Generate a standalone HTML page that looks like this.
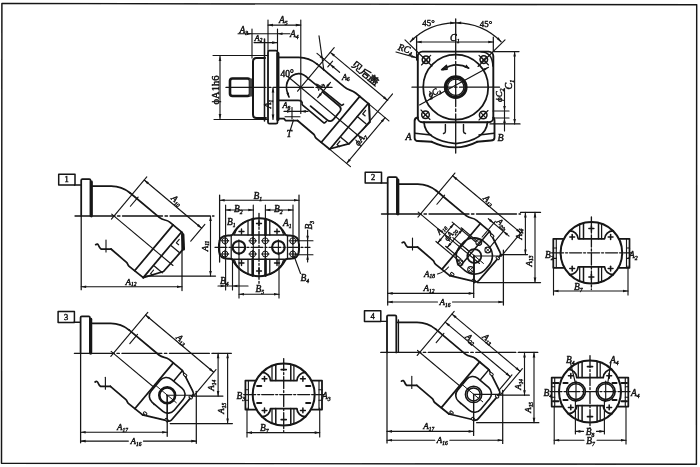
<!DOCTYPE html>
<html><head><meta charset="utf-8"><style>
html,body{margin:0;padding:0;background:#fff;}
svg{display:block;}
</style></head><body>
<svg width="700" height="467" viewBox="0 0 700 467">
<defs><filter id="bl" filterUnits="userSpaceOnUse" x="0" y="0" width="700" height="467"><feGaussianBlur stdDeviation="0.4"/></filter></defs>
<rect x="0" y="0" width="700" height="467" fill="#fff"/>
<g stroke="#141414" fill="none" stroke-linecap="round" stroke-linejoin="round" filter="url(#bl)">
<path d="M1.9 3.4 L696.7 4.8 L696.4 464.3 L1.5 463.2 Z" stroke-width="1.44" fill="none"/>
<path d="M268 52.2 V122.2 Q268 123.7 269.5 123.7 H276 Q277.5 123.7 277.5 122.2 V52.2 Q277.5 50.7 276 50.7 H269.5 Q268 50.7 268 52.2 Z" stroke-width="1.75" fill="none"/>
<line x1="277.9" y1="53.4" x2="277.9" y2="119.4" stroke-width="3.13"/>
<path d="M278.8 57.4 H298.57 Q309.07 57.4 317.12 64.15" stroke-width="1.75" fill="none"/>
<path d="M317.12 64.15 L344.27 86.93 C349.25 91.11 350.99 89.04 355.96 93.22 L368.99 104.15" stroke-width="1.75" fill="none"/>
<rect x="230" y="78.5" width="20" height="17.5" rx="2.5" stroke-width="2.63" fill="none"/>
<rect x="249.3" y="78.5" width="3.2" height="18" rx="0" stroke-width="0" fill="#444"/>
<path d="M265 58 H256.5 Q253 58 253 61.5 V114.5 Q253 118 256.5 118 H266" stroke-width="2" fill="none"/>
<line x1="264.5" y1="39" x2="264.5" y2="121" stroke-width="1.5"/>
<line x1="268" y1="20" x2="268" y2="51" stroke-width="1.13"/>
<line x1="252" y1="29" x2="252" y2="58" stroke-width="1.13"/>
<line x1="277.5" y1="29" x2="277.5" y2="51" stroke-width="1.13"/>
<line x1="300.8" y1="20" x2="300.8" y2="113.5" stroke-width="1.13"/>
<line x1="213" y1="55.5" x2="268" y2="55.5" stroke-width="1.13"/>
<line x1="214" y1="119.5" x2="268" y2="119.5" stroke-width="1.13"/>
<line x1="220" y1="56" x2="220" y2="119" stroke-width="1.13"/>
<path d="M220 56 L221.3 61 L218.7 61 Z" fill="#141414" stroke="none"/>
<path d="M220 119 L218.7 114 L221.3 114 Z" fill="#141414" stroke="none"/>
<text fill="#141414" stroke="#141414" stroke-width="0.45" x="219.2" y="90" text-anchor="middle" style="font-family:'Liberation Serif', serif;font-size:10.5px;font-weight:normal;" transform="rotate(-90 219.2 90)">ϕA1h6</text>
<line x1="268" y1="25.1" x2="300.8" y2="25.1" stroke-width="1.13"/>
<path d="M268 25.1 L273 23.8 L273 26.4 Z" fill="#141414" stroke="none"/>
<path d="M300.8 25.1 L295.8 26.4 L295.8 23.8 Z" fill="#141414" stroke="none"/>
<text fill="#141414" stroke="#141414" stroke-width="0.45" x="279" y="23.4" text-anchor="start" style="font-family:'Liberation Serif', serif;font-size:9.5px;font-style:italic;">A<tspan dy="2.09" style="font-size:5.7px">5</tspan></text>
<line x1="238" y1="33.7" x2="290" y2="33.7" stroke-width="1.13"/>
<path d="M252 33.7 L247 35 L247 32.4 Z" fill="#141414" stroke="none"/>
<path d="M277.5 33.7 L282.5 32.4 L282.5 35 Z" fill="#141414" stroke="none"/>
<text fill="#141414" stroke="#141414" stroke-width="0.45" x="239.5" y="32.6" text-anchor="start" style="font-family:'Liberation Serif', serif;font-size:9.5px;font-style:italic;">A<tspan dy="2.09" style="font-size:5.7px">3</tspan></text>
<text fill="#141414" stroke="#141414" stroke-width="0.45" x="290" y="37.2" text-anchor="start" style="font-family:'Liberation Serif', serif;font-size:9.5px;font-style:italic;">A<tspan dy="2.09" style="font-size:5.7px">4</tspan></text>
<line x1="254" y1="42.6" x2="277" y2="42.6" stroke-width="1.13"/>
<path d="M277.2 42.6 L272.2 43.9 L272.2 41.3 Z" fill="#141414" stroke="none"/>
<text fill="#141414" stroke="#141414" stroke-width="0.45" x="254.5" y="40.6" text-anchor="start" style="font-family:'Liberation Serif', serif;font-size:8.5px;font-style:italic;">A<tspan dy="1.87" style="font-size:5.1px">2</tspan></text>
<line x1="226" y1="87.4" x2="332" y2="87.4" stroke-width="1.32" stroke-dasharray="40 2.5 2.5 2.5"/>
<path d="M278 118.6 H284 L285.5 120.5 H297.5" stroke-width="1.75" fill="none"/>
<path d="M297.5 120.5 L313.7 134.25 C315.23 135.54 314.27 136.69 316.57 138.62 L329.4 148.99" stroke-width="1.75" fill="none"/>
<path d="M289 97 Q282.5 83 292.5 75.5 Q301 70.5 308.96 79.23 L340.88 104.97 Q342.03 105.94 343.44 104.25" stroke-width="1.63" fill="none"/>
<path d="M289.3 97.6 L286.42 93.31 L288.88 92.45 Z" fill="#141414" stroke="none"/>
<path d="M278 100.4 H298 Q303 100.4 302.09 104.54 L323.54 122.53 Q324.68 123.5 326.48 121.35" stroke-width="1.63" fill="none"/>
<path d="M322.49 91.89 L338.96 105.71 Q342.4 108.6 339.51 112.05 L333.41 119.33 Q330.51 122.78 327.07 119.88 L310.6 106.06" stroke-width="1.75" fill="none"/>
<line x1="287.78" y1="76.47" x2="359.02" y2="136.25" stroke-width="1.13"/>
<line x1="317.67" y1="97.64" x2="330.52" y2="82.32" stroke-width="1.13"/>
<path d="M317.67 97.64 L319.88 92.97 L321.88 94.64 Z" fill="#141414" stroke="none"/>
<path d="M330.52 82.32 L328.3 86.98 L326.31 85.31 Z" fill="#141414" stroke="none"/>
<text fill="#141414" stroke="#141414" stroke-width="0.45" x="318.82" y="90.6" text-anchor="start" style="font-family:'Liberation Serif', serif;font-size:9px;font-style:italic;" transform="rotate(-50 318.82 90.6)">A<tspan dy="1.98" style="font-size:5.4px">9</tspan></text>
<line x1="359.79" y1="96.43" x2="321.36" y2="142.24" stroke-width="1.75"/>
<line x1="368.22" y1="103.51" x2="329.78" y2="149.31" stroke-width="1.75"/>
<path d="M368.99 104.15 L369.79 122.26 L349.24 143.71 L329.4 148.99" stroke-width="1.75" fill="none"/>
<line x1="369.29" y1="105.15" x2="369.79" y2="122.26" stroke-width="1.5"/>
<line x1="357.29" y1="116.53" x2="365.95" y2="123.79" stroke-width="1.38"/>
<line x1="341.03" y1="137.47" x2="348.92" y2="144.09" stroke-width="1.38"/>
<path d="M365.64 110.47 L362.74 113.92 L365.04 115.85" stroke-width="1.25" fill="none"/>
<path d="M339.93 141.12 L337.03 144.56 L339.33 146.49" stroke-width="1.25" fill="none"/>
<text fill="#141414" stroke="#141414" stroke-width="0.45" x="280.5" y="76.5" text-anchor="start" style="font-family:'Liberation Serif', serif;font-size:9.5px;">40°</text>
<line x1="297.59" y1="91.23" x2="334.22" y2="47.57" stroke-width="1.13"/>
<line x1="327.76" y1="66.94" x2="332.58" y2="61.2" stroke-width="1.13"/>
<line x1="316.98" y1="53.33" x2="339.58" y2="72.3" stroke-width="1.13"/>
<path d="M324.26 59.44 L319.6 57.22 L321.27 55.23 Z" fill="#141414" stroke="none"/>
<path d="M330.01 64.26 L334.67 66.48 L333 68.47 Z" fill="#141414" stroke="none"/>
<text fill="#141414" stroke="#141414" stroke-width="0.45" x="341.91" y="79.51" text-anchor="start" style="font-family:'Liberation Serif', serif;font-size:8.5px;font-style:italic;">A<tspan dy="1.87" style="font-size:5.1px">6</tspan></text>
<line x1="319" y1="35.8" x2="323.9" y2="70.5" stroke-width="1.13"/>
<line x1="330.24" y1="52.32" x2="387.69" y2="100.52" stroke-width="1.13"/>
<path d="M330.24 52.32 L334.91 54.53 L333.23 56.52 Z" fill="#141414" stroke="none"/>
<path d="M387.69 100.52 L383.03 98.31 L384.7 96.31 Z" fill="#141414" stroke="none"/>
<line x1="362.37" y1="129.93" x2="392.58" y2="93.92" stroke-width="1.13"/>
<line x1="368.99" y1="104.15" x2="388.9" y2="120.86" stroke-width="1.13"/>
<line x1="329.78" y1="149.31" x2="350.47" y2="166.67" stroke-width="1.13"/>
<line x1="385.07" y1="117.65" x2="346.64" y2="163.46" stroke-width="1.13"/>
<path d="M385.07 117.65 L382.86 122.31 L380.86 120.64 Z" fill="#141414" stroke="none"/>
<path d="M346.64 163.46 L348.85 158.79 L350.85 160.46 Z" fill="#141414" stroke="none"/>
<text fill="#141414" stroke="#141414" stroke-width="0.45" x="362.65" y="141.26" text-anchor="middle" style="font-family:'Liberation Serif', serif;font-size:9px;font-style:italic;" transform="rotate(-50 362.65 141.26)">ϕA<tspan dy="1.98" style="font-size:5.4px">7</tspan></text>
<line x1="284" y1="111.4" x2="308" y2="111.4" stroke-width="1.13"/>
<path d="M292 111.4 L287 112.7 L287 110.1 Z" fill="#141414" stroke="none"/>
<path d="M300.8 111.4 L305.8 110.1 L305.8 112.7 Z" fill="#141414" stroke="none"/>
<text fill="#141414" stroke="#141414" stroke-width="0.45" x="282.5" y="108" text-anchor="start" style="font-family:'Liberation Serif', serif;font-size:8.5px;font-style:italic;">A<tspan dy="1.87" style="font-size:5.1px">8</tspan></text>
<line x1="285" y1="116.7" x2="300" y2="116.7" stroke-width="1.13"/>
<line x1="292" y1="107.5" x2="292" y2="119" stroke-width="1.13"/>
<line x1="293.5" y1="120" x2="290" y2="131" stroke-width="1.13"/>
<text fill="#141414" stroke="#141414" stroke-width="0.45" x="286.5" y="137" text-anchor="start" style="font-family:'Liberation Serif', serif;font-size:9.5px;font-style:italic;">T</text>
<line x1="273" y1="87.4" x2="273" y2="119.4" stroke-width="1.13"/>
<path d="M273 87.4 L274.3 92.4 L271.7 92.4 Z" fill="#141414" stroke="none"/>
<path d="M273 119.4 L271.7 114.4 L274.3 114.4 Z" fill="#141414" stroke="none"/>
<text fill="#141414" stroke="#141414" stroke-width="0.45" x="270.5" y="104" text-anchor="middle" style="font-family:'Liberation Serif', serif;font-size:9.5px;font-style:italic;" transform="rotate(-90 270.5 104)">A<tspan dy="2.09" style="font-size:5.7px">1</tspan></text>
<path d="M81.2 216 V180.2 Q81.2 179 82.4 179 H89.3 Q90.5 179 90.5 180.2 V216" stroke-width="1.75" fill="none"/>
<line x1="91.4" y1="182" x2="91.4" y2="216" stroke-width="2.88"/>
<path d="M92 186 H111.31 Q121.81 186 129.85 192.75" stroke-width="1.75" fill="none"/>
<path d="M129.85 192.75 L159.58 217.69 C163.79 221.23 165.85 218.78 170.06 222.31 L182.32 232.6" stroke-width="1.75" fill="none"/>
<rect x="58.7" y="174.3" width="16.3" height="10.8" rx="0" stroke-width="1.5" fill="none"/>
<text fill="#141414" stroke="#141414" stroke-width="0.45" x="66.7" y="182.4" text-anchor="middle" style="font-family:'Liberation Serif', serif;font-size:8.5px;font-weight:normal;">1</text>
<line x1="74.5" y1="185" x2="81" y2="185" stroke-width="1.38"/>
<line x1="81.2" y1="216" x2="81.2" y2="289.7" stroke-width="1.25"/>
<line x1="75" y1="216" x2="214" y2="216" stroke-width="1.32" stroke-dasharray="40 2.5 2.5 2.5"/>
<path d="M95.7 244.7 q2 -1.5 3 1 q1 2.5 2.3 3.3 H111" stroke-width="1.75" fill="none"/>
<line x1="106" y1="240" x2="106" y2="252" stroke-width="1.13"/>
<path d="M111 249 L126.26 262.06 C128.18 263.67 127.28 264.74 129.19 266.34 L143.24 277.61" stroke-width="1.75" fill="none"/>
<line x1="111.7" y1="214.07" x2="172.99" y2="265.49" stroke-width="1.13"/>
<line x1="130.4" y1="206.26" x2="138.11" y2="197.07" stroke-width="1.13"/>
<line x1="111.43" y1="219.06" x2="146.78" y2="176.93" stroke-width="1.13"/>
<line x1="144.21" y1="180" x2="201.66" y2="228.2" stroke-width="1.13"/>
<path d="M144.21 180 L148.88 182.21 L147.21 184.21 Z" fill="#141414" stroke="none"/>
<path d="M201.66 228.2 L197 225.99 L198.67 224 Z" fill="#141414" stroke="none"/>
<line x1="190.74" y1="241.23" x2="204.88" y2="224.37" stroke-width="1.13"/>
<text fill="#141414" stroke="#141414" stroke-width="0.45" x="174.93" y="202.51" text-anchor="middle" style="font-family:'Liberation Serif', serif;font-size:9px;font-style:italic;" transform="rotate(40 174.93 202.51)">A<tspan dy="1.98" style="font-size:5.4px">10</tspan></text>
<line x1="173.12" y1="224.88" x2="134.81" y2="270.54" stroke-width="1.75"/>
<line x1="181.55" y1="231.95" x2="143.24" y2="277.61" stroke-width="1.75"/>
<path d="M182.25 233.45 L183.45 248.95 L163.5 271.51 L143.24 277.61" stroke-width="1.75" fill="none"/>
<line x1="182.85" y1="234.45" x2="183.45" y2="248.95" stroke-width="3.13"/>
<line x1="171.26" y1="245.77" x2="179.3" y2="252.52" stroke-width="1.25"/>
<line x1="154.23" y1="266.07" x2="162.27" y2="272.82" stroke-width="1.25"/>
<path d="M179.22 239.4 L176.33 242.84 L178.63 244.77" stroke-width="1.13" fill="none"/>
<path d="M153.51 270.04 L150.62 273.49 L152.91 275.41" stroke-width="1.13" fill="none"/>
<line x1="145" y1="276" x2="215.5" y2="276" stroke-width="1.25"/>
<line x1="210.5" y1="216" x2="210.5" y2="276" stroke-width="1.13"/>
<path d="M210.5 216 L211.8 221 L209.2 221 Z" fill="#141414" stroke="none"/>
<path d="M210.5 276 L209.2 271 L211.8 271 Z" fill="#141414" stroke="none"/>
<text fill="#141414" stroke="#141414" stroke-width="0.45" x="207.5" y="246" text-anchor="middle" style="font-family:'Liberation Serif', serif;font-size:9px;font-style:italic;" transform="rotate(-90 207.5 246)">A<tspan dy="1.98" style="font-size:5.4px">11</tspan></text>
<line x1="81.2" y1="286.7" x2="182" y2="286.7" stroke-width="1.13"/>
<path d="M81.2 286.7 L86.2 285.4 L86.2 288 Z" fill="#141414" stroke="none"/>
<path d="M182 286.7 L177 288 L177 285.4 Z" fill="#141414" stroke="none"/>
<line x1="182" y1="234" x2="182" y2="290.5" stroke-width="1.25"/>
<text fill="#141414" stroke="#141414" stroke-width="0.45" x="131" y="284.5" text-anchor="middle" style="font-family:'Liberation Serif', serif;font-size:9px;font-style:italic;">A<tspan dy="1.98" style="font-size:5.4px">12</tspan></text>
<path d="M387.7 214 V178.2 Q387.7 177 388.9 177 H395.8 Q397 177 397 178.2 V214" stroke-width="1.75" fill="none"/>
<line x1="397.9" y1="180" x2="397.9" y2="214" stroke-width="2.88"/>
<path d="M398.5 184 H417.81 Q428.31 184 436.35 190.75" stroke-width="1.75" fill="none"/>
<path d="M436.35 190.75 L466.08 215.69 C470.29 219.23 472.35 216.78 476.56 220.31 L488.82 230.6" stroke-width="1.75" fill="none"/>
<rect x="365.2" y="172.3" width="16.3" height="10.8" rx="0" stroke-width="1.5" fill="none"/>
<text fill="#141414" stroke="#141414" stroke-width="0.45" x="373.2" y="180.4" text-anchor="middle" style="font-family:'Liberation Serif', serif;font-size:8.5px;font-weight:normal;">2</text>
<line x1="381" y1="183" x2="387.5" y2="183" stroke-width="1.38"/>
<line x1="387.7" y1="214" x2="387.7" y2="305" stroke-width="1.25"/>
<line x1="381.5" y1="214" x2="520.5" y2="214" stroke-width="1.32" stroke-dasharray="40 2.5 2.5 2.5"/>
<path d="M402.2 242.7 q2 -1.5 3 1 q1 2.5 2.3 3.3 H417.5" stroke-width="1.75" fill="none"/>
<line x1="412.5" y1="238" x2="412.5" y2="250" stroke-width="1.13"/>
<path d="M417.5 247 L432.76 260.06 C434.68 261.67 433.78 262.74 435.69 264.34 L449.74 275.61" stroke-width="1.75" fill="none"/>
<line x1="418.2" y1="212.07" x2="479.49" y2="263.49" stroke-width="1.13"/>
<line x1="436.9" y1="204.26" x2="444.61" y2="195.07" stroke-width="1.13"/>
<line x1="417.93" y1="217.06" x2="454.89" y2="173.02" stroke-width="1.13"/>
<line x1="452.64" y1="175.7" x2="520.82" y2="232.91" stroke-width="1.13"/>
<path d="M452.64 175.7 L457.31 177.92 L455.63 179.91 Z" fill="#141414" stroke="none"/>
<path d="M520.82 232.91 L516.15 230.69 L517.82 228.7 Z" fill="#141414" stroke="none"/>
<line x1="501.53" y1="255.89" x2="523.07" y2="230.22" stroke-width="1.13"/>
<text fill="#141414" stroke="#141414" stroke-width="0.45" x="486.93" y="202.51" text-anchor="middle" style="font-family:'Liberation Serif', serif;font-size:9px;font-style:italic;" transform="rotate(40 486.93 202.51)">A<tspan dy="1.98" style="font-size:5.4px">13</tspan></text>
<line x1="480.39" y1="223.52" x2="442.08" y2="269.18" stroke-width="1.75"/>
<path d="M489.58 231.24 L500.1 252.3 Q501.3 254.5 499.7 256.3 L478.8 280.5 Q477.3 282.2 475.1 281.6 L449.74 275.61" stroke-width="1.75" fill="none"/>
<rect x="490.38" y="234.64" width="3.6" height="2.2" rx="0.8" stroke-width="1.0" fill="#fff" transform="rotate(40 492.18 235.74)"/>
<rect x="496" y="256.9" width="3.6" height="2.2" rx="0.8" stroke-width="1.0" fill="#fff" transform="rotate(40 497.8 258)"/>
<rect x="472" y="279.6" width="3.6" height="2.2" rx="0.8" stroke-width="1.0" fill="#fff" transform="rotate(40 473.8 280.7)"/>
<rect x="450.44" y="273.01" width="3.6" height="2.2" rx="0.8" stroke-width="1.0" fill="#fff" transform="rotate(40 452.24 274.11)"/>
<line x1="489.58" y1="231.24" x2="461.17" y2="265.1" stroke-width="1.5"/>
<rect x="457.1" y="238.8" width="34.4" height="34.4" rx="15" stroke-width="1.6" fill="none" transform="rotate(40 474.3 256)"/>
<line x1="474.3" y1="256" x2="501.3" y2="256" stroke-width="1.13"/>
<line x1="474.3" y1="256" x2="474.3" y2="283" stroke-width="1.13"/>
<line x1="462.01" y1="245.43" x2="483.45" y2="263.43" stroke-width="1"/>
<circle cx="474.3" cy="256" r="7" stroke-width="1.75" fill="none"/>
<circle cx="478.8" cy="242.5" r="2.9" stroke-width="1.07" fill="none"/>
<line x1="476.6" y1="240.3" x2="481" y2="244.7" stroke-width="0.88"/>
<line x1="476.6" y1="244.7" x2="481" y2="240.3" stroke-width="0.88"/>
<circle cx="487.8" cy="250" r="2.9" stroke-width="1.07" fill="none"/>
<line x1="485.6" y1="247.8" x2="490" y2="252.2" stroke-width="0.88"/>
<line x1="485.6" y1="252.2" x2="490" y2="247.8" stroke-width="0.88"/>
<circle cx="460.1" cy="262.8" r="2.9" stroke-width="1.07" fill="none"/>
<line x1="457.9" y1="260.6" x2="462.3" y2="265" stroke-width="0.88"/>
<line x1="457.9" y1="265" x2="462.3" y2="260.6" stroke-width="0.88"/>
<circle cx="470.6" cy="269.5" r="2.9" stroke-width="1.07" fill="none"/>
<line x1="468.4" y1="267.3" x2="472.8" y2="271.7" stroke-width="0.88"/>
<line x1="468.4" y1="271.7" x2="472.8" y2="267.3" stroke-width="0.88"/>
<line x1="500.5" y1="254.6" x2="527.5" y2="254.6" stroke-width="1.25"/>
<line x1="477.3" y1="282.5" x2="540.5" y2="282.5" stroke-width="1.25"/>
<line x1="525.4" y1="212.4" x2="525.4" y2="254.6" stroke-width="1.13"/>
<path d="M525.4 212.4 L526.7 217.4 L524.1 217.4 Z" fill="#141414" stroke="none"/>
<path d="M525.4 254.6 L524.1 249.6 L526.7 249.6 Z" fill="#141414" stroke="none"/>
<line x1="535" y1="212.4" x2="535" y2="282.5" stroke-width="1.13"/>
<path d="M535 212.4 L536.3 217.4 L533.7 217.4 Z" fill="#141414" stroke="none"/>
<path d="M535 282.5 L533.7 277.5 L536.3 277.5 Z" fill="#141414" stroke="none"/>
<line x1="520.5" y1="212.4" x2="540.5" y2="212.4" stroke-width="1.25"/>
<text fill="#141414" stroke="#141414" stroke-width="0.45" x="521.5" y="234" text-anchor="middle" style="font-family:'Liberation Serif', serif;font-size:9px;font-style:italic;" transform="rotate(-90 521.5 234)">A<tspan dy="1.98" style="font-size:5.4px">14</tspan></text>
<text fill="#141414" stroke="#141414" stroke-width="0.45" x="531.5" y="261" text-anchor="middle" style="font-family:'Liberation Serif', serif;font-size:9px;font-style:italic;" transform="rotate(-90 531.5 261)">A<tspan dy="1.98" style="font-size:5.4px">13</tspan></text>
<line x1="473.7" y1="255" x2="473.7" y2="297.4" stroke-width="1.25"/>
<line x1="503.4" y1="250" x2="503.4" y2="305" stroke-width="1.25"/>
<line x1="387.7" y1="293.4" x2="473.7" y2="293.4" stroke-width="1.13"/>
<path d="M387.7 293.4 L392.7 292.1 L392.7 294.7 Z" fill="#141414" stroke="none"/>
<path d="M473.7 293.4 L468.7 294.7 L468.7 292.1 Z" fill="#141414" stroke="none"/>
<text fill="#141414" stroke="#141414" stroke-width="0.45" x="429" y="291" text-anchor="middle" style="font-family:'Liberation Serif', serif;font-size:9px;font-style:italic;">A<tspan dy="1.98" style="font-size:5.4px">12</tspan></text>
<line x1="387.7" y1="302" x2="437.5" y2="302" stroke-width="1.13"/>
<line x1="452.5" y1="302" x2="503.4" y2="302" stroke-width="1.13"/>
<path d="M387.7 302 L392.7 300.7 L392.7 303.3 Z" fill="#141414" stroke="none"/>
<path d="M503.4 302 L498.4 303.3 L498.4 300.7 Z" fill="#141414" stroke="none"/>
<text fill="#141414" stroke="#141414" stroke-width="0.45" x="445" y="305.2" text-anchor="middle" style="font-family:'Liberation Serif', serif;font-size:9px;font-style:italic;">A<tspan dy="1.98" style="font-size:5.4px">16</tspan></text>
<text fill="#141414" stroke="#141414" stroke-width="0.45" x="429.5" y="276.5" text-anchor="middle" style="font-family:'Liberation Serif', serif;font-size:9px;font-style:italic;">A<tspan dy="1.98" style="font-size:5.4px">18</tspan></text>
<path d="M437.5 274 Q444.5 272 448.5 267" stroke-width="1.13" fill="none"/>
<line x1="452.16" y1="222.16" x2="475.53" y2="241.77" stroke-width="1.13"/>
<line x1="435.96" y1="241.47" x2="459.33" y2="261.07" stroke-width="1.13"/>
<line x1="461.17" y1="227.76" x2="476.49" y2="240.62" stroke-width="1.13"/>
<line x1="445.61" y1="246.3" x2="460.93" y2="259.16" stroke-width="1.13"/>
<line x1="452.88" y1="237.64" x2="468.2" y2="250.5" stroke-width="1.13"/>
<line x1="437.73" y1="242.94" x2="453.92" y2="223.64" stroke-width="1.13"/>
<path d="M437.73 242.94 L439.94 238.28 L441.94 239.95 Z" fill="#141414" stroke="none"/>
<path d="M453.92 223.64 L451.71 228.31 L449.71 226.63 Z" fill="#141414" stroke="none"/>
<line x1="447.15" y1="247.59" x2="462.7" y2="229.05" stroke-width="1.13"/>
<path d="M447.15 247.59 L449.36 242.92 L451.36 244.59 Z" fill="#141414" stroke="none"/>
<path d="M462.7 229.05 L460.48 233.71 L458.49 232.04 Z" fill="#141414" stroke="none"/>
<text fill="#141414" stroke="#141414" stroke-width="0.45" x="443.14" y="231.04" text-anchor="middle" style="font-family:'Liberation Serif', serif;font-size:8.5px;font-style:italic;" transform="rotate(-50 443.14 231.04)">A<tspan dy="1.87" style="font-size:5.1px">18</tspan></text>
<text fill="#141414" stroke="#141414" stroke-width="0.45" x="452.45" y="235.98" text-anchor="middle" style="font-family:'Liberation Serif', serif;font-size:8.5px;font-style:italic;" transform="rotate(-50 452.45 235.98)">ϕA<tspan dy="1.87" style="font-size:5.1px">20</tspan></text>
<line x1="482.14" y1="237" x2="495.31" y2="221.3" stroke-width="1.13"/>
<line x1="490.43" y1="246.57" x2="504.89" y2="229.33" stroke-width="1.13"/>
<line x1="488.34" y1="218.71" x2="509.03" y2="236.07" stroke-width="1.13"/>
<path d="M493.71 223.21 L489.04 220.99 L490.71 219 Z" fill="#141414" stroke="none"/>
<path d="M503.28 231.25 L507.95 233.46 L506.28 235.46 Z" fill="#141414" stroke="none"/>
<text fill="#141414" stroke="#141414" stroke-width="0.45" x="500.16" y="225.63" text-anchor="middle" style="font-family:'Liberation Serif', serif;font-size:8.5px;font-style:italic;" transform="rotate(40 500.16 225.63)">A<tspan dy="1.87" style="font-size:5.1px">20</tspan></text>
<path d="M80.6 353.3 V317.5 Q80.6 316.3 81.8 316.3 H88.7 Q89.9 316.3 89.9 317.5 V353.3" stroke-width="1.75" fill="none"/>
<line x1="90.8" y1="319.3" x2="90.8" y2="353.3" stroke-width="2.88"/>
<path d="M91.4 323.3 H110.71 Q121.21 323.3 129.25 330.05" stroke-width="1.75" fill="none"/>
<path d="M129.25 330.05 L158.98 354.99 C163.19 358.53 165.25 356.08 169.46 359.61 L181.72 369.9" stroke-width="1.75" fill="none"/>
<rect x="58.1" y="311.6" width="16.3" height="10.8" rx="0" stroke-width="1.5" fill="none"/>
<text fill="#141414" stroke="#141414" stroke-width="0.45" x="66.1" y="319.7" text-anchor="middle" style="font-family:'Liberation Serif', serif;font-size:8.5px;font-weight:normal;">3</text>
<line x1="73.9" y1="322.3" x2="80.4" y2="322.3" stroke-width="1.38"/>
<line x1="80.6" y1="353.3" x2="80.6" y2="442.8" stroke-width="1.25"/>
<line x1="74.4" y1="353.3" x2="213.4" y2="353.3" stroke-width="1.32" stroke-dasharray="40 2.5 2.5 2.5"/>
<path d="M95.1 382 q2 -1.5 3 1 q1 2.5 2.3 3.3 H110.4" stroke-width="1.75" fill="none"/>
<line x1="105.4" y1="377.3" x2="105.4" y2="389.3" stroke-width="1.13"/>
<path d="M110.4 386.3 L125.66 399.36 C127.58 400.97 126.68 402.04 128.59 403.64 L142.64 414.91" stroke-width="1.75" fill="none"/>
<line x1="111.1" y1="351.37" x2="172.39" y2="402.79" stroke-width="1.13"/>
<line x1="129.8" y1="343.56" x2="137.51" y2="334.37" stroke-width="1.13"/>
<line x1="110.83" y1="356.36" x2="147.79" y2="312.32" stroke-width="1.13"/>
<line x1="145.54" y1="315" x2="213.72" y2="372.21" stroke-width="1.13"/>
<path d="M145.54 315 L150.21 317.22 L148.53 319.21 Z" fill="#141414" stroke="none"/>
<path d="M213.72 372.21 L209.05 369.99 L210.72 368 Z" fill="#141414" stroke="none"/>
<line x1="194.43" y1="395.19" x2="215.97" y2="369.52" stroke-width="1.13"/>
<text fill="#141414" stroke="#141414" stroke-width="0.45" x="179.83" y="341.81" text-anchor="middle" style="font-family:'Liberation Serif', serif;font-size:9px;font-style:italic;" transform="rotate(40 179.83 341.81)">A<tspan dy="1.98" style="font-size:5.4px">13</tspan></text>
<line x1="173.29" y1="362.82" x2="134.98" y2="408.48" stroke-width="1.75"/>
<path d="M182.48 370.54 L193 391.6 Q194.2 393.8 192.6 395.6 L171.7 419.8 Q170.2 421.5 168 420.9 L142.64 414.91" stroke-width="1.75" fill="none"/>
<rect x="183.28" y="373.94" width="3.6" height="2.2" rx="0.8" stroke-width="1.0" fill="#fff" transform="rotate(40 185.08 375.04)"/>
<rect x="188.9" y="396.2" width="3.6" height="2.2" rx="0.8" stroke-width="1.0" fill="#fff" transform="rotate(40 190.7 397.3)"/>
<rect x="164.9" y="418.9" width="3.6" height="2.2" rx="0.8" stroke-width="1.0" fill="#fff" transform="rotate(40 166.7 420)"/>
<rect x="143.34" y="412.31" width="3.6" height="2.2" rx="0.8" stroke-width="1.0" fill="#fff" transform="rotate(40 145.14 413.41)"/>
<line x1="182.48" y1="370.54" x2="154.07" y2="404.4" stroke-width="1.5"/>
<rect x="152.2" y="380.3" width="30" height="30" rx="8" stroke-width="1.6" fill="#fff" transform="rotate(40 167.2 395.3)"/>
<line x1="167.2" y1="395.3" x2="194.2" y2="395.3" stroke-width="1.13"/>
<line x1="167.2" y1="395.3" x2="167.2" y2="422.3" stroke-width="1.13"/>
<line x1="154.91" y1="384.73" x2="176.35" y2="402.73" stroke-width="1"/>
<circle cx="167.2" cy="395.3" r="7.9" stroke-width="2.63" fill="none"/>
<line x1="191.4" y1="396.1" x2="222.9" y2="396.1" stroke-width="1.25"/>
<line x1="170.2" y1="423.6" x2="232.4" y2="423.6" stroke-width="1.25"/>
<line x1="218.1" y1="353.3" x2="218.1" y2="396.1" stroke-width="1.13"/>
<path d="M218.1 353.3 L219.4 358.3 L216.8 358.3 Z" fill="#141414" stroke="none"/>
<path d="M218.1 396.1 L216.8 391.1 L219.4 391.1 Z" fill="#141414" stroke="none"/>
<line x1="227.6" y1="353.3" x2="227.6" y2="423.6" stroke-width="1.13"/>
<path d="M227.6 353.3 L228.9 358.3 L226.3 358.3 Z" fill="#141414" stroke="none"/>
<path d="M227.6 423.6 L226.3 418.6 L228.9 418.6 Z" fill="#141414" stroke="none"/>
<text fill="#141414" stroke="#141414" stroke-width="0.45" x="214.4" y="385.3" text-anchor="middle" style="font-family:'Liberation Serif', serif;font-size:9px;font-style:italic;" transform="rotate(-90 214.4 385.3)">A<tspan dy="1.98" style="font-size:5.4px">14</tspan></text>
<text fill="#141414" stroke="#141414" stroke-width="0.45" x="224.4" y="408.3" text-anchor="middle" style="font-family:'Liberation Serif', serif;font-size:9px;font-style:italic;" transform="rotate(-90 224.4 408.3)">A<tspan dy="1.98" style="font-size:5.4px">15</tspan></text>
<line x1="213.4" y1="353.3" x2="231.4" y2="353.3" stroke-width="1.25"/>
<line x1="167.2" y1="395.3" x2="167.2" y2="436.3" stroke-width="1.25"/>
<line x1="196.3" y1="391.3" x2="196.3" y2="443.3" stroke-width="1.25"/>
<line x1="80.6" y1="432.3" x2="167.2" y2="432.3" stroke-width="1.13"/>
<path d="M80.6 432.3 L85.6 431 L85.6 433.6 Z" fill="#141414" stroke="none"/>
<path d="M167.2 432.3 L162.2 433.6 L162.2 431 Z" fill="#141414" stroke="none"/>
<text fill="#141414" stroke="#141414" stroke-width="0.45" x="122.4" y="430.3" text-anchor="middle" style="font-family:'Liberation Serif', serif;font-size:9px;font-style:italic;">A<tspan dy="1.98" style="font-size:5.4px">17</tspan></text>
<line x1="80.6" y1="441.1" x2="128.4" y2="441.1" stroke-width="1.13"/>
<line x1="143.4" y1="441.1" x2="196.3" y2="441.1" stroke-width="1.13"/>
<path d="M80.6 441.1 L85.6 439.8 L85.6 442.4 Z" fill="#141414" stroke="none"/>
<path d="M196.3 441.1 L191.3 442.4 L191.3 439.8 Z" fill="#141414" stroke="none"/>
<text fill="#141414" stroke="#141414" stroke-width="0.45" x="135.9" y="444.3" text-anchor="middle" style="font-family:'Liberation Serif', serif;font-size:9px;font-style:italic;">A<tspan dy="1.98" style="font-size:5.4px">16</tspan></text>
<path d="M387 352.4 V316.6 Q387 315.4 388.2 315.4 H395.1 Q396.3 315.4 396.3 316.6 V352.4" stroke-width="1.75" fill="none"/>
<line x1="398.4" y1="319.9" x2="398.4" y2="352.4" stroke-width="1.38"/>
<path d="M397.8 322.4 H417.11 Q427.61 322.4 435.65 329.15" stroke-width="1.75" fill="none"/>
<path d="M435.65 329.15 L465.38 354.09 C469.59 357.63 471.65 355.18 475.86 358.71 L488.12 369" stroke-width="1.75" fill="none"/>
<rect x="364.5" y="310.7" width="16.3" height="10.8" rx="0" stroke-width="1.5" fill="none"/>
<text fill="#141414" stroke="#141414" stroke-width="0.45" x="372.5" y="318.8" text-anchor="middle" style="font-family:'Liberation Serif', serif;font-size:8.5px;font-weight:normal;">4</text>
<line x1="380.3" y1="321.4" x2="386.8" y2="321.4" stroke-width="1.38"/>
<line x1="387" y1="352.4" x2="387" y2="442.9" stroke-width="1.25"/>
<line x1="380.8" y1="352.4" x2="519.8" y2="352.4" stroke-width="1.32" stroke-dasharray="40 2.5 2.5 2.5"/>
<path d="M401.5 381.1 q2 -1.5 3 1 q1 2.5 2.3 3.3 H416.8" stroke-width="1.75" fill="none"/>
<line x1="411.8" y1="376.4" x2="411.8" y2="388.4" stroke-width="1.13"/>
<path d="M416.8 385.4 L432.06 398.46 C433.98 400.07 433.08 401.14 434.99 402.74 L449.04 414.01" stroke-width="1.75" fill="none"/>
<line x1="417.5" y1="350.47" x2="478.79" y2="401.89" stroke-width="1.13"/>
<line x1="436.2" y1="342.66" x2="443.91" y2="333.47" stroke-width="1.13"/>
<line x1="417.23" y1="355.46" x2="454.19" y2="311.42" stroke-width="1.13"/>
<line x1="451.94" y1="314.1" x2="520.12" y2="371.31" stroke-width="1.13"/>
<path d="M451.94 314.1 L456.61 316.32 L454.93 318.31 Z" fill="#141414" stroke="none"/>
<path d="M520.12 371.31 L515.45 369.09 L517.12 367.1 Z" fill="#141414" stroke="none"/>
<line x1="500.83" y1="394.29" x2="522.37" y2="368.62" stroke-width="1.13"/>
<text fill="#141414" stroke="#141414" stroke-width="0.45" x="486.23" y="340.91" text-anchor="middle" style="font-family:'Liberation Serif', serif;font-size:9px;font-style:italic;" transform="rotate(40 486.23 340.91)">A<tspan dy="1.98" style="font-size:5.4px">13</tspan></text>
<line x1="479.69" y1="361.92" x2="441.38" y2="407.58" stroke-width="1.75"/>
<path d="M488.88 369.64 L499.4 390.7 Q500.6 392.9 499 394.7 L478.1 418.9 Q476.6 420.6 474.4 420 L449.04 414.01" stroke-width="1.75" fill="none"/>
<rect x="489.68" y="373.04" width="3.6" height="2.2" rx="0.8" stroke-width="1.0" fill="#fff" transform="rotate(40 491.48 374.14)"/>
<rect x="495.3" y="395.3" width="3.6" height="2.2" rx="0.8" stroke-width="1.0" fill="#fff" transform="rotate(40 497.1 396.4)"/>
<rect x="471.3" y="418" width="3.6" height="2.2" rx="0.8" stroke-width="1.0" fill="#fff" transform="rotate(40 473.1 419.1)"/>
<rect x="449.74" y="411.41" width="3.6" height="2.2" rx="0.8" stroke-width="1.0" fill="#fff" transform="rotate(40 451.54 412.51)"/>
<line x1="488.88" y1="369.64" x2="460.47" y2="403.5" stroke-width="1.5"/>
<rect x="458.6" y="379.4" width="30" height="30" rx="8" stroke-width="1.6" fill="#fff" transform="rotate(40 473.6 394.4)"/>
<line x1="473.6" y1="394.4" x2="500.6" y2="394.4" stroke-width="1.13"/>
<line x1="473.6" y1="394.4" x2="473.6" y2="421.4" stroke-width="1.13"/>
<line x1="461.31" y1="383.83" x2="482.75" y2="401.83" stroke-width="1"/>
<circle cx="473.6" cy="394.4" r="8.2" stroke-width="1.5" fill="none"/>
<circle cx="473.6" cy="394.4" r="6.5" stroke-width="1.5" fill="none"/>
<line x1="445.19" y1="322.14" x2="510.3" y2="376.78" stroke-width="1.13"/>
<path d="M445.19 322.14 L449.86 324.36 L448.18 326.35 Z" fill="#141414" stroke="none"/>
<path d="M510.3 376.78 L505.64 374.56 L507.31 372.57 Z" fill="#141414" stroke="none"/>
<line x1="499.06" y1="390.18" x2="511.91" y2="374.86" stroke-width="1.13"/>
<text fill="#141414" stroke="#141414" stroke-width="0.45" x="469.27" y="341.04" text-anchor="middle" style="font-family:'Liberation Serif', serif;font-size:9px;font-style:italic;" transform="rotate(40 469.27 341.04)">A<tspan dy="1.98" style="font-size:5.4px">22</tspan></text>
<line x1="497.8" y1="395.2" x2="529.3" y2="395.2" stroke-width="1.25"/>
<line x1="476.6" y1="422.7" x2="538.8" y2="422.7" stroke-width="1.25"/>
<line x1="524.5" y1="352.4" x2="524.5" y2="395.2" stroke-width="1.13"/>
<path d="M524.5 352.4 L525.8 357.4 L523.2 357.4 Z" fill="#141414" stroke="none"/>
<path d="M524.5 395.2 L523.2 390.2 L525.8 390.2 Z" fill="#141414" stroke="none"/>
<line x1="534" y1="352.4" x2="534" y2="422.7" stroke-width="1.13"/>
<path d="M534 352.4 L535.3 357.4 L532.7 357.4 Z" fill="#141414" stroke="none"/>
<path d="M534 422.7 L532.7 417.7 L535.3 417.7 Z" fill="#141414" stroke="none"/>
<text fill="#141414" stroke="#141414" stroke-width="0.45" x="520.8" y="384.4" text-anchor="middle" style="font-family:'Liberation Serif', serif;font-size:9px;font-style:italic;" transform="rotate(-90 520.8 384.4)">A<tspan dy="1.98" style="font-size:5.4px">14</tspan></text>
<text fill="#141414" stroke="#141414" stroke-width="0.45" x="530.8" y="407.4" text-anchor="middle" style="font-family:'Liberation Serif', serif;font-size:9px;font-style:italic;" transform="rotate(-90 530.8 407.4)">A<tspan dy="1.98" style="font-size:5.4px">15</tspan></text>
<line x1="519.8" y1="352.4" x2="537.8" y2="352.4" stroke-width="1.25"/>
<line x1="473.6" y1="394.4" x2="473.6" y2="435.4" stroke-width="1.25"/>
<line x1="502.7" y1="390.4" x2="502.7" y2="443.4" stroke-width="1.25"/>
<line x1="387" y1="431.4" x2="473.6" y2="431.4" stroke-width="1.13"/>
<path d="M387 431.4 L392 430.1 L392 432.7 Z" fill="#141414" stroke="none"/>
<path d="M473.6 431.4 L468.6 432.7 L468.6 430.1 Z" fill="#141414" stroke="none"/>
<text fill="#141414" stroke="#141414" stroke-width="0.45" x="428.8" y="429.4" text-anchor="middle" style="font-family:'Liberation Serif', serif;font-size:9px;font-style:italic;">A<tspan dy="1.98" style="font-size:5.4px">17</tspan></text>
<line x1="387" y1="440.2" x2="434.8" y2="440.2" stroke-width="1.13"/>
<line x1="449.8" y1="440.2" x2="502.7" y2="440.2" stroke-width="1.13"/>
<path d="M387 440.2 L392 438.9 L392 441.5 Z" fill="#141414" stroke="none"/>
<path d="M502.7 440.2 L497.7 441.5 L497.7 438.9 Z" fill="#141414" stroke="none"/>
<text fill="#141414" stroke="#141414" stroke-width="0.45" x="442.3" y="443.4" text-anchor="middle" style="font-family:'Liberation Serif', serif;font-size:9px;font-style:italic;">A<tspan dy="1.98" style="font-size:5.4px">16</tspan></text>
<path d="M228 235.4 H229.72 Q232.72 235.4 233.02 233.9 A29.5 29.5 0 0 1 284.98 233.9 Q285.28 235.4 288.28 235.4 H290 Q299 235.4 299 244.4 V249.8 Q299 258.8 290 258.8 H288.48 Q285.48 258.8 285.18 260.3 A29.5 29.5 0 0 1 232.82 260.3 Q232.52 258.8 229.52 258.8 H228 Q219 258.8 219 249.8 V244.4 Q219 235.4 228 235.4 Z" stroke-width="2" fill="none"/>
<line x1="233.72" y1="234.9" x2="284.28" y2="234.9" stroke-width="1.5"/>
<line x1="233.52" y1="259.3" x2="284.48" y2="259.3" stroke-width="1.5"/>
<line x1="231.2" y1="236.4" x2="231.2" y2="257.8" stroke-width="1.25"/>
<line x1="287.5" y1="236.4" x2="287.5" y2="257.8" stroke-width="1.25"/>
<line x1="248" y1="220.43" x2="248" y2="234.9" stroke-width="1.25"/>
<line x1="248" y1="259.3" x2="248" y2="274.17" stroke-width="1.25"/>
<line x1="252.7" y1="218.98" x2="252.7" y2="234.9" stroke-width="2.63"/>
<line x1="252.7" y1="259.3" x2="252.7" y2="275.62" stroke-width="2.63"/>
<line x1="265.5" y1="219.03" x2="265.5" y2="234.9" stroke-width="2.63"/>
<line x1="265.5" y1="259.3" x2="265.5" y2="275.57" stroke-width="2.63"/>
<line x1="269.8" y1="220.35" x2="269.8" y2="234.9" stroke-width="1.25"/>
<line x1="269.8" y1="259.3" x2="269.8" y2="274.25" stroke-width="1.25"/>
<path d="M234.5 234.4 Q237 225.3 246 221.3" stroke-width="1.13" fill="none"/>
<path d="M234.5 259.8 Q237 269.3 246 273.3" stroke-width="1.13" fill="none"/>
<path d="M283.5 234.4 Q281 225.3 272 221.3" stroke-width="1.13" fill="none"/>
<path d="M283.5 259.8 Q281 269.3 272 273.3" stroke-width="1.13" fill="none"/>
<circle cx="238.9" cy="247.3" r="6.3" stroke-width="2.13" fill="none"/>
<circle cx="278.4" cy="247.3" r="6.3" stroke-width="2.13" fill="none"/>
<line x1="238.9" y1="239.8" x2="238.9" y2="254.8" stroke-width="1.13"/>
<line x1="278.4" y1="239.8" x2="278.4" y2="254.8" stroke-width="1.13"/>
<circle cx="225" cy="240.8" r="3" stroke-width="1" fill="none"/>
<line x1="221.2" y1="240.8" x2="228.8" y2="240.8" stroke-width="1"/>
<line x1="225" y1="237" x2="225" y2="244.6" stroke-width="1"/>
<circle cx="225" cy="254" r="3" stroke-width="1" fill="none"/>
<line x1="221.2" y1="254" x2="228.8" y2="254" stroke-width="1"/>
<line x1="225" y1="250.2" x2="225" y2="257.8" stroke-width="1"/>
<circle cx="252.7" cy="240.8" r="3" stroke-width="1" fill="none"/>
<line x1="248.9" y1="240.8" x2="256.5" y2="240.8" stroke-width="1"/>
<line x1="252.7" y1="237" x2="252.7" y2="244.6" stroke-width="1"/>
<circle cx="265.3" cy="240.8" r="3" stroke-width="1" fill="none"/>
<line x1="261.5" y1="240.8" x2="269.1" y2="240.8" stroke-width="1"/>
<line x1="265.3" y1="237" x2="265.3" y2="244.6" stroke-width="1"/>
<circle cx="252.7" cy="254" r="3" stroke-width="1" fill="none"/>
<line x1="248.9" y1="254" x2="256.5" y2="254" stroke-width="1"/>
<line x1="252.7" y1="250.2" x2="252.7" y2="257.8" stroke-width="1"/>
<circle cx="265.3" cy="254" r="3" stroke-width="1" fill="none"/>
<line x1="261.5" y1="254" x2="269.1" y2="254" stroke-width="1"/>
<line x1="265.3" y1="250.2" x2="265.3" y2="257.8" stroke-width="1"/>
<circle cx="292.8" cy="240.8" r="3" stroke-width="1" fill="none"/>
<line x1="289" y1="240.8" x2="296.6" y2="240.8" stroke-width="1"/>
<line x1="292.8" y1="237" x2="292.8" y2="244.6" stroke-width="1"/>
<circle cx="292.8" cy="254" r="3" stroke-width="1" fill="none"/>
<line x1="289" y1="254" x2="296.6" y2="254" stroke-width="1"/>
<line x1="292.8" y1="250.2" x2="292.8" y2="257.8" stroke-width="1"/>
<line x1="239" y1="231.5" x2="244" y2="231.5" stroke-width="1.38"/>
<line x1="241.5" y1="229" x2="241.5" y2="234" stroke-width="1.38"/>
<line x1="274.5" y1="231.5" x2="279.5" y2="231.5" stroke-width="1.38"/>
<line x1="277" y1="229" x2="277" y2="234" stroke-width="1.38"/>
<line x1="239" y1="263" x2="244" y2="263" stroke-width="1.38"/>
<line x1="241.5" y1="260.5" x2="241.5" y2="265.5" stroke-width="1.38"/>
<line x1="274.5" y1="263" x2="279.5" y2="263" stroke-width="1.38"/>
<line x1="277" y1="260.5" x2="277" y2="265.5" stroke-width="1.38"/>
<line x1="256.5" y1="223.5" x2="261.5" y2="223.5" stroke-width="1.38"/>
<line x1="259" y1="221" x2="259" y2="226" stroke-width="1.38"/>
<line x1="256.5" y1="271" x2="261.5" y2="271" stroke-width="1.38"/>
<line x1="259" y1="268.5" x2="259" y2="273.5" stroke-width="1.38"/>
<line x1="215" y1="247.3" x2="310" y2="247.3" stroke-width="1.32" stroke-dasharray="12 2 2 2"/>
<line x1="259" y1="213.3" x2="259" y2="284.3" stroke-width="1.32" stroke-dasharray="12 2 2 2"/>
<line x1="219.6" y1="195" x2="219.6" y2="262" stroke-width="1.25"/>
<line x1="299" y1="195" x2="299" y2="241" stroke-width="1.25"/>
<line x1="219.6" y1="200.2" x2="299" y2="200.2" stroke-width="1.13"/>
<path d="M219.6 200.2 L224.6 198.9 L224.6 201.5 Z" fill="#141414" stroke="none"/>
<path d="M299 200.2 L294 201.5 L294 198.9 Z" fill="#141414" stroke="none"/>
<text fill="#141414" stroke="#141414" stroke-width="0.45" x="253.5" y="199" text-anchor="start" style="font-family:'Liberation Serif', serif;font-size:9.5px;font-style:italic;">B<tspan dy="2.09" style="font-size:5.7px">1</tspan></text>
<line x1="225.6" y1="205" x2="225.6" y2="258" stroke-width="1.13"/>
<line x1="253.3" y1="205" x2="253.3" y2="258" stroke-width="1.13"/>
<line x1="225.6" y1="210" x2="253.3" y2="210" stroke-width="1.13"/>
<path d="M225.6 210 L230.6 208.7 L230.6 211.3 Z" fill="#141414" stroke="none"/>
<path d="M253.3 210 L248.3 211.3 L248.3 208.7 Z" fill="#141414" stroke="none"/>
<line x1="265.4" y1="205" x2="265.4" y2="258" stroke-width="1.13"/>
<line x1="293" y1="205" x2="293" y2="258" stroke-width="1.13"/>
<line x1="265.4" y1="210" x2="293" y2="210" stroke-width="1.13"/>
<path d="M265.4 210 L270.4 208.7 L270.4 211.3 Z" fill="#141414" stroke="none"/>
<path d="M293 210 L288 211.3 L288 208.7 Z" fill="#141414" stroke="none"/>
<text fill="#141414" stroke="#141414" stroke-width="0.45" x="234" y="212" text-anchor="start" style="font-family:'Liberation Serif', serif;font-size:9.5px;font-style:italic;">B<tspan dy="2.09" style="font-size:5.7px">2</tspan></text>
<text fill="#141414" stroke="#141414" stroke-width="0.45" x="274" y="212" text-anchor="start" style="font-family:'Liberation Serif', serif;font-size:9.5px;font-style:italic;">B<tspan dy="2.09" style="font-size:5.7px">2</tspan></text>
<text fill="#141414" stroke="#141414" stroke-width="0.45" x="227" y="225" text-anchor="start" style="font-family:'Liberation Serif', serif;font-size:9.5px;font-style:italic;">B<tspan dy="2.09" style="font-size:5.7px">1</tspan></text>
<text fill="#141414" stroke="#141414" stroke-width="0.45" x="283" y="225.5" text-anchor="start" style="font-family:'Liberation Serif', serif;font-size:9.5px;font-style:italic;">A<tspan dy="2.09" style="font-size:5.7px">1</tspan></text>
<line x1="295" y1="240.8" x2="313" y2="240.8" stroke-width="1.13"/>
<line x1="295" y1="254.7" x2="313" y2="254.7" stroke-width="1.13"/>
<line x1="307.6" y1="230" x2="307.6" y2="262" stroke-width="1.13"/>
<path d="M307.6 240.8 L306.3 235.8 L308.9 235.8 Z" fill="#141414" stroke="none"/>
<path d="M307.6 254.7 L308.9 259.7 L306.3 259.7 Z" fill="#141414" stroke="none"/>
<text fill="#141414" stroke="#141414" stroke-width="0.45" x="311.5" y="229.5" text-anchor="start" style="font-family:'Liberation Serif', serif;font-size:9.5px;font-style:italic;" transform="rotate(-90 311.5 229.5)">B<tspan dy="2.09" style="font-size:5.7px">3</tspan></text>
<line x1="294" y1="256" x2="300.5" y2="273.5" stroke-width="1.13"/>
<text fill="#141414" stroke="#141414" stroke-width="0.45" x="300.5" y="281" text-anchor="start" style="font-family:'Liberation Serif', serif;font-size:9.5px;font-style:italic;">B<tspan dy="2.09" style="font-size:5.7px">4</tspan></text>
<line x1="225.6" y1="256" x2="225.6" y2="290" stroke-width="1.13"/>
<line x1="232.5" y1="259" x2="232.5" y2="290" stroke-width="1.13"/>
<line x1="218" y1="286" x2="248" y2="286" stroke-width="1.13"/>
<path d="M225.6 286 L220.6 287.3 L220.6 284.7 Z" fill="#141414" stroke="none"/>
<path d="M232.5 286 L237.5 284.7 L237.5 287.3 Z" fill="#141414" stroke="none"/>
<text fill="#141414" stroke="#141414" stroke-width="0.45" x="220" y="283.5" text-anchor="start" style="font-family:'Liberation Serif', serif;font-size:9.5px;font-style:italic;">B<tspan dy="2.09" style="font-size:5.7px">4</tspan></text>
<line x1="239" y1="253" x2="239" y2="298" stroke-width="1.13"/>
<line x1="279" y1="253" x2="279" y2="298" stroke-width="1.13"/>
<line x1="239" y1="294.3" x2="279" y2="294.3" stroke-width="1.13"/>
<path d="M239 294.3 L244 293 L244 295.6 Z" fill="#141414" stroke="none"/>
<path d="M279 294.3 L274 295.6 L274 293 Z" fill="#141414" stroke="none"/>
<text fill="#141414" stroke="#141414" stroke-width="0.45" x="255.5" y="292" text-anchor="start" style="font-family:'Liberation Serif', serif;font-size:9.5px;font-style:italic;">B<tspan dy="2.09" style="font-size:5.7px">5</tspan></text>
<path d="M563.6 238.8 H553.3 V267.8 H563.6" stroke-width="1.75" fill="none"/>
<line x1="556.3" y1="238.8" x2="556.3" y2="267.8" stroke-width="1.13"/>
<line x1="553.3" y1="248" x2="556.3" y2="248" stroke-width="1.13"/>
<line x1="553.3" y1="258.4" x2="556.3" y2="258.4" stroke-width="1.13"/>
<path d="M619.2 238.8 H629.5 V267.8 H619.2" stroke-width="1.75" fill="none"/>
<line x1="626.5" y1="238.8" x2="626.5" y2="267.8" stroke-width="1.13"/>
<line x1="629.5" y1="248" x2="626.5" y2="248" stroke-width="1.13"/>
<line x1="629.5" y1="258.4" x2="626.5" y2="258.4" stroke-width="1.13"/>
<circle cx="591.4" cy="252.8" r="30.8" stroke-width="2" fill="#fff"/>
<path d="M569.7 230.94 A8.5 8.5 0 0 1 578.2 238.8 H604.6 A8.5 8.5 0 0 1 613.1 230.94" stroke-width="1.75" fill="none"/>
<line x1="579.7" y1="238.8" x2="579.7" y2="224.31" stroke-width="1.25"/>
<line x1="583.5" y1="238.8" x2="583.5" y2="223.03" stroke-width="1.5"/>
<line x1="598.5" y1="238.8" x2="598.5" y2="222.83" stroke-width="1.5"/>
<line x1="601.6" y1="238.8" x2="601.6" y2="223.74" stroke-width="1.25"/>
<line x1="588.9" y1="228.6" x2="593.9" y2="228.6" stroke-width="1.5"/>
<line x1="591.4" y1="226.1" x2="591.4" y2="231.1" stroke-width="1.5"/>
<line x1="569.8" y1="237" x2="574.6" y2="237" stroke-width="1.5"/>
<line x1="572.2" y1="234.6" x2="572.2" y2="239.4" stroke-width="1.5"/>
<line x1="608.2" y1="237" x2="613" y2="237" stroke-width="1.5"/>
<line x1="610.6" y1="234.6" x2="610.6" y2="239.4" stroke-width="1.5"/>
<path d="M569.7 274.66 A8.5 8.5 0 0 0 578.2 266.8 H604.6 A8.5 8.5 0 0 0 613.1 274.66" stroke-width="1.75" fill="none"/>
<line x1="579.7" y1="266.8" x2="579.7" y2="281.29" stroke-width="1.25"/>
<line x1="583.5" y1="266.8" x2="583.5" y2="282.57" stroke-width="1.5"/>
<line x1="598.5" y1="266.8" x2="598.5" y2="282.77" stroke-width="1.5"/>
<line x1="601.6" y1="266.8" x2="601.6" y2="281.86" stroke-width="1.25"/>
<line x1="588.9" y1="277" x2="593.9" y2="277" stroke-width="1.5"/>
<line x1="591.4" y1="274.5" x2="591.4" y2="279.5" stroke-width="1.5"/>
<line x1="569.8" y1="268.6" x2="574.6" y2="268.6" stroke-width="1.5"/>
<line x1="572.2" y1="266.2" x2="572.2" y2="271" stroke-width="1.5"/>
<line x1="608.2" y1="268.6" x2="613" y2="268.6" stroke-width="1.5"/>
<line x1="610.6" y1="266.2" x2="610.6" y2="271" stroke-width="1.5"/>
<line x1="551.6" y1="252.8" x2="631.2" y2="252.8" stroke-width="1.32" stroke-dasharray="12 2 2 2"/>
<line x1="591.4" y1="217" x2="591.4" y2="289.6" stroke-width="1.32" stroke-dasharray="12 2 2 2"/>
<line x1="553.5" y1="266" x2="553.5" y2="295" stroke-width="1.13"/>
<line x1="628" y1="266" x2="628" y2="295" stroke-width="1.13"/>
<line x1="553.5" y1="291" x2="628" y2="291" stroke-width="1.13"/>
<path d="M553.5 291 L558.5 289.7 L558.5 292.3 Z" fill="#141414" stroke="none"/>
<path d="M628 291 L623 292.3 L623 289.7 Z" fill="#141414" stroke="none"/>
<text fill="#141414" stroke="#141414" stroke-width="0.45" x="574" y="289.5" text-anchor="start" style="font-family:'Liberation Serif', serif;font-size:9.5px;font-style:italic;">B<tspan dy="2.09" style="font-size:5.7px">7</tspan></text>
<text fill="#141414" stroke="#141414" stroke-width="0.45" x="545" y="258" text-anchor="start" style="font-family:'Liberation Serif', serif;font-size:9.5px;font-style:italic;">B<tspan dy="2.09" style="font-size:5.7px">2</tspan></text>
<text fill="#141414" stroke="#141414" stroke-width="0.45" x="629" y="258" text-anchor="start" style="font-family:'Liberation Serif', serif;font-size:9.5px;font-style:italic;">A<tspan dy="2.09" style="font-size:5.7px">2</tspan></text>
<path d="M255.7 380.6 H245.4 V409.6 H255.7" stroke-width="1.75" fill="none"/>
<line x1="248.4" y1="380.6" x2="248.4" y2="409.6" stroke-width="1.13"/>
<line x1="245.4" y1="389.8" x2="248.4" y2="389.8" stroke-width="1.13"/>
<line x1="245.4" y1="400.2" x2="248.4" y2="400.2" stroke-width="1.13"/>
<path d="M311.7 380.6 H322 V409.6 H311.7" stroke-width="1.75" fill="none"/>
<line x1="319" y1="380.6" x2="319" y2="409.6" stroke-width="1.13"/>
<line x1="322" y1="389.8" x2="319" y2="389.8" stroke-width="1.13"/>
<line x1="322" y1="400.2" x2="319" y2="400.2" stroke-width="1.13"/>
<circle cx="283.7" cy="394.6" r="31" stroke-width="2" fill="#fff"/>
<path d="M262 372.46 A8.5 8.5 0 0 1 270.5 380.6 H296.9 A8.5 8.5 0 0 1 305.4 372.46" stroke-width="1.75" fill="none"/>
<line x1="272" y1="380.6" x2="272" y2="365.89" stroke-width="1.25"/>
<line x1="275.8" y1="380.6" x2="275.8" y2="364.62" stroke-width="1.5"/>
<line x1="290.8" y1="380.6" x2="290.8" y2="364.42" stroke-width="1.5"/>
<line x1="293.9" y1="380.6" x2="293.9" y2="365.33" stroke-width="1.25"/>
<line x1="281.2" y1="369.6" x2="286.2" y2="369.6" stroke-width="1.75"/>
<line x1="262.1" y1="378.8" x2="266.9" y2="378.8" stroke-width="1.5"/>
<line x1="264.5" y1="376.4" x2="264.5" y2="381.2" stroke-width="1.5"/>
<line x1="300.5" y1="378.8" x2="305.3" y2="378.8" stroke-width="1.5"/>
<line x1="302.9" y1="376.4" x2="302.9" y2="381.2" stroke-width="1.5"/>
<path d="M262 416.74 A8.5 8.5 0 0 0 270.5 408.6 H296.9 A8.5 8.5 0 0 0 305.4 416.74" stroke-width="1.75" fill="none"/>
<line x1="272" y1="408.6" x2="272" y2="423.31" stroke-width="1.25"/>
<line x1="275.8" y1="408.6" x2="275.8" y2="424.58" stroke-width="1.5"/>
<line x1="290.8" y1="408.6" x2="290.8" y2="424.78" stroke-width="1.5"/>
<line x1="293.9" y1="408.6" x2="293.9" y2="423.87" stroke-width="1.25"/>
<line x1="281.2" y1="419.6" x2="286.2" y2="419.6" stroke-width="1.75"/>
<line x1="262.1" y1="410.4" x2="266.9" y2="410.4" stroke-width="1.5"/>
<line x1="264.5" y1="408" x2="264.5" y2="412.8" stroke-width="1.5"/>
<line x1="300.5" y1="410.4" x2="305.3" y2="410.4" stroke-width="1.5"/>
<line x1="302.9" y1="408" x2="302.9" y2="412.8" stroke-width="1.5"/>
<line x1="261.2" y1="386" x2="257.2" y2="386" stroke-width="2.13"/>
<line x1="261.2" y1="403" x2="257.2" y2="403" stroke-width="2.13"/>
<line x1="306.2" y1="386" x2="310.2" y2="386" stroke-width="2.13"/>
<line x1="306.2" y1="403" x2="310.2" y2="403" stroke-width="2.13"/>
<line x1="243.7" y1="394.6" x2="323.7" y2="394.6" stroke-width="1.32" stroke-dasharray="12 2 2 2"/>
<line x1="283.7" y1="358.6" x2="283.7" y2="431.6" stroke-width="1.32" stroke-dasharray="12 2 2 2"/>
<line x1="247" y1="408" x2="247" y2="437" stroke-width="1.13"/>
<line x1="319.7" y1="408" x2="319.7" y2="437" stroke-width="1.13"/>
<line x1="247" y1="432.6" x2="319.7" y2="432.6" stroke-width="1.13"/>
<path d="M247 432.6 L252 431.3 L252 433.9 Z" fill="#141414" stroke="none"/>
<path d="M319.7 432.6 L314.7 433.9 L314.7 431.3 Z" fill="#141414" stroke="none"/>
<text fill="#141414" stroke="#141414" stroke-width="0.45" x="260" y="431" text-anchor="start" style="font-family:'Liberation Serif', serif;font-size:9.5px;font-style:italic;">B<tspan dy="2.09" style="font-size:5.7px">7</tspan></text>
<text fill="#141414" stroke="#141414" stroke-width="0.45" x="236.5" y="399" text-anchor="start" style="font-family:'Liberation Serif', serif;font-size:9.5px;font-style:italic;">B<tspan dy="2.09" style="font-size:5.7px">3</tspan></text>
<text fill="#141414" stroke="#141414" stroke-width="0.45" x="322" y="399" text-anchor="start" style="font-family:'Liberation Serif', serif;font-size:9.5px;font-style:italic;">A<tspan dy="2.09" style="font-size:5.7px">3</tspan></text>
<path d="M562 377.6 H551.7 V406.6 H562" stroke-width="1.75" fill="none"/>
<line x1="554.7" y1="377.6" x2="554.7" y2="406.6" stroke-width="1.13"/>
<line x1="551.7" y1="386.8" x2="554.7" y2="386.8" stroke-width="1.13"/>
<line x1="551.7" y1="397.2" x2="554.7" y2="397.2" stroke-width="1.13"/>
<path d="M618 377.6 H628.3 V406.6 H618" stroke-width="1.75" fill="none"/>
<line x1="625.3" y1="377.6" x2="625.3" y2="406.6" stroke-width="1.13"/>
<line x1="628.3" y1="386.8" x2="625.3" y2="386.8" stroke-width="1.13"/>
<line x1="628.3" y1="397.2" x2="625.3" y2="397.2" stroke-width="1.13"/>
<circle cx="590" cy="391.6" r="31" stroke-width="2" fill="#fff"/>
<path d="M568.3 369.46 A8.5 8.5 0 0 1 576.8 377.6 H603.2 A8.5 8.5 0 0 1 611.7 369.46" stroke-width="1.75" fill="none"/>
<line x1="578.3" y1="377.6" x2="578.3" y2="362.89" stroke-width="1.25"/>
<line x1="582.1" y1="377.6" x2="582.1" y2="361.62" stroke-width="1.5"/>
<line x1="597.1" y1="377.6" x2="597.1" y2="361.42" stroke-width="1.5"/>
<line x1="600.2" y1="377.6" x2="600.2" y2="362.33" stroke-width="1.25"/>
<line x1="587.5" y1="366.6" x2="592.5" y2="366.6" stroke-width="1.75"/>
<line x1="568.4" y1="375.8" x2="573.2" y2="375.8" stroke-width="1.5"/>
<line x1="570.8" y1="373.4" x2="570.8" y2="378.2" stroke-width="1.5"/>
<line x1="606.8" y1="375.8" x2="611.6" y2="375.8" stroke-width="1.5"/>
<line x1="609.2" y1="373.4" x2="609.2" y2="378.2" stroke-width="1.5"/>
<path d="M568.3 413.74 A8.5 8.5 0 0 0 576.8 405.6 H603.2 A8.5 8.5 0 0 0 611.7 413.74" stroke-width="1.75" fill="none"/>
<line x1="578.3" y1="405.6" x2="578.3" y2="420.31" stroke-width="1.25"/>
<line x1="582.1" y1="405.6" x2="582.1" y2="421.58" stroke-width="1.5"/>
<line x1="597.1" y1="405.6" x2="597.1" y2="421.78" stroke-width="1.5"/>
<line x1="600.2" y1="405.6" x2="600.2" y2="420.87" stroke-width="1.25"/>
<line x1="587.5" y1="416.6" x2="592.5" y2="416.6" stroke-width="1.75"/>
<line x1="568.4" y1="407.4" x2="573.2" y2="407.4" stroke-width="1.5"/>
<line x1="570.8" y1="405" x2="570.8" y2="409.8" stroke-width="1.5"/>
<line x1="606.8" y1="407.4" x2="611.6" y2="407.4" stroke-width="1.5"/>
<line x1="609.2" y1="405" x2="609.2" y2="409.8" stroke-width="1.5"/>
<line x1="567.5" y1="383" x2="563.5" y2="383" stroke-width="2.13"/>
<line x1="567.5" y1="400" x2="563.5" y2="400" stroke-width="2.13"/>
<line x1="612.5" y1="383" x2="616.5" y2="383" stroke-width="2.13"/>
<line x1="612.5" y1="400" x2="616.5" y2="400" stroke-width="2.13"/>
<circle cx="576" cy="391.6" r="9.4" stroke-width="1.63" fill="#fff"/>
<circle cx="576" cy="391.6" r="7.8" stroke-width="1.5" fill="none"/>
<line x1="576" y1="381.1" x2="576" y2="401.6" stroke-width="1.13"/>
<circle cx="605.7" cy="391.6" r="9.4" stroke-width="1.63" fill="#fff"/>
<circle cx="605.7" cy="391.6" r="7.8" stroke-width="1.5" fill="none"/>
<line x1="605.7" y1="381.1" x2="605.7" y2="401.6" stroke-width="1.13"/>
<line x1="558.5" y1="383" x2="553" y2="383" stroke-width="1.88"/>
<line x1="558.5" y1="401.2" x2="553" y2="401.2" stroke-width="1.88"/>
<line x1="621.5" y1="383" x2="627" y2="383" stroke-width="1.88"/>
<line x1="621.5" y1="401.2" x2="627" y2="401.2" stroke-width="1.88"/>
<line x1="550" y1="391.6" x2="630" y2="391.6" stroke-width="1.32" stroke-dasharray="12 2 2 2"/>
<line x1="590" y1="355.6" x2="590" y2="428.6" stroke-width="1.32" stroke-dasharray="12 2 2 2"/>
<line x1="554.2" y1="407" x2="554.2" y2="444" stroke-width="1.13"/>
<line x1="626" y1="407" x2="626" y2="444" stroke-width="1.13"/>
<line x1="575.4" y1="400" x2="575.4" y2="434" stroke-width="1.13"/>
<line x1="604.4" y1="400" x2="604.4" y2="434" stroke-width="1.13"/>
<line x1="575.4" y1="431.4" x2="583.5" y2="431.4" stroke-width="1.13"/>
<line x1="596.5" y1="431.4" x2="604.4" y2="431.4" stroke-width="1.13"/>
<path d="M575.4 431.4 L580.4 430.1 L580.4 432.7 Z" fill="#141414" stroke="none"/>
<path d="M604.4 431.4 L599.4 432.7 L599.4 430.1 Z" fill="#141414" stroke="none"/>
<text fill="#141414" stroke="#141414" stroke-width="0.45" x="590" y="434.6" text-anchor="middle" style="font-family:'Liberation Serif', serif;font-size:9.5px;font-style:italic;">B<tspan dy="2.09" style="font-size:5.7px">8</tspan></text>
<line x1="554.2" y1="440.3" x2="584" y2="440.3" stroke-width="1.13"/>
<line x1="597" y1="440.3" x2="626" y2="440.3" stroke-width="1.13"/>
<path d="M554.2 440.3 L559.2 439 L559.2 441.6 Z" fill="#141414" stroke="none"/>
<path d="M626 440.3 L621 441.6 L621 439 Z" fill="#141414" stroke="none"/>
<text fill="#141414" stroke="#141414" stroke-width="0.45" x="590.5" y="443.5" text-anchor="middle" style="font-family:'Liberation Serif', serif;font-size:9.5px;font-style:italic;">B<tspan dy="2.09" style="font-size:5.7px">7</tspan></text>
<text fill="#141414" stroke="#141414" stroke-width="0.45" x="566" y="363" text-anchor="start" style="font-family:'Liberation Serif', serif;font-size:9.5px;font-style:italic;">B<tspan dy="2.09" style="font-size:5.7px">4</tspan></text>
<text fill="#141414" stroke="#141414" stroke-width="0.45" x="610" y="363" text-anchor="start" style="font-family:'Liberation Serif', serif;font-size:9.5px;font-style:italic;">A<tspan dy="2.09" style="font-size:5.7px">4</tspan></text>
<text fill="#141414" stroke="#141414" stroke-width="0.45" x="543.5" y="396" text-anchor="start" style="font-family:'Liberation Serif', serif;font-size:9.5px;font-style:italic;">B<tspan dy="2.09" style="font-size:5.7px">4</tspan></text>
<text fill="#141414" stroke="#141414" stroke-width="0.45" x="631" y="396" text-anchor="start" style="font-family:'Liberation Serif', serif;font-size:9.5px;font-style:italic;">A<tspan dy="2.09" style="font-size:5.7px">4</tspan></text>
<line x1="570.2" y1="361.7" x2="575.5" y2="383.5" stroke-width="1.13"/>
<line x1="611" y1="361.7" x2="607.7" y2="383.5" stroke-width="1.13"/>
<rect x="417.8" y="51.6" width="75.5" height="70.6" rx="4.5" stroke-width="1.88" fill="none"/>
<path d="M481 51.8 Q492.5 52.5 492.8 66" stroke-width="1.38" fill="none"/>
<circle cx="455.7" cy="87.2" r="32.5" stroke-width="1.75" fill="none"/>
<circle cx="455.7" cy="87.2" r="10.3" stroke-width="3.13" fill="none"/>
<circle cx="455.7" cy="87.2" r="8.2" stroke-width="1.25" fill="none"/>
<circle cx="426" cy="59.7" r="3.8" stroke-width="1.5" fill="none"/>
<line x1="423.2" y1="56.9" x2="428.8" y2="62.5" stroke-width="1.13"/>
<line x1="423.2" y1="62.5" x2="428.8" y2="56.9" stroke-width="1.13"/>
<circle cx="483.8" cy="59.6" r="3.8" stroke-width="1.5" fill="none"/>
<line x1="481" y1="56.8" x2="486.6" y2="62.4" stroke-width="1.13"/>
<line x1="481" y1="62.4" x2="486.6" y2="56.8" stroke-width="1.13"/>
<circle cx="425.5" cy="114.8" r="3.8" stroke-width="1.5" fill="none"/>
<line x1="422.7" y1="112" x2="428.3" y2="117.6" stroke-width="1.13"/>
<line x1="422.7" y1="117.6" x2="428.3" y2="112" stroke-width="1.13"/>
<circle cx="483.2" cy="115" r="3.8" stroke-width="1.5" fill="none"/>
<line x1="480.4" y1="112.2" x2="486" y2="117.8" stroke-width="1.13"/>
<line x1="480.4" y1="117.8" x2="486" y2="112.2" stroke-width="1.13"/>
<line x1="405" y1="39.8" x2="432" y2="66" stroke-width="1.13"/>
<line x1="505" y1="39.8" x2="478" y2="66.5" stroke-width="1.13"/>
<line x1="421.5" y1="65" x2="430.7" y2="55.4" stroke-width="1.13"/>
<line x1="488.5" y1="65" x2="479" y2="55.4" stroke-width="1.13"/>
<line x1="421" y1="110" x2="430" y2="119.5" stroke-width="1.13"/>
<line x1="479" y1="120" x2="488" y2="110.5" stroke-width="1.13"/>
<line x1="455.7" y1="19" x2="455.7" y2="153" stroke-width="1.32" stroke-dasharray="40 2.5 2.5 2.5"/>
<line x1="412" y1="87.2" x2="500" y2="87.2" stroke-width="1.32" stroke-dasharray="40 2.5 2.5 2.5"/>
<path d="M410.3 41.8 A64.2 64.2 0 0 1 501.1 41.8" stroke-width="1.25" fill="none"/>
<path d="M410.3 41.8 L412.81 37.29 L414.69 39.08 Z" fill="#141414" stroke="none"/>
<path d="M501.1 41.8 L496.71 39.08 L498.59 37.29 Z" fill="#141414" stroke="none"/>
<path d="M455.2 23 L450.16 24.15 L450.24 21.55 Z" fill="#141414" stroke="none"/>
<path d="M456.2 23 L461.16 21.55 L461.24 24.15 Z" fill="#141414" stroke="none"/>
<text fill="#141414" stroke="#141414" stroke-width="0.45" x="428.5" y="25.5" text-anchor="middle" style="font-family:'Liberation Serif', serif;font-size:8.8px;font-weight:normal;">45°</text>
<text fill="#141414" stroke="#141414" stroke-width="0.45" x="486" y="27" text-anchor="middle" style="font-family:'Liberation Serif', serif;font-size:8.8px;font-weight:normal;">45°</text>
<line x1="416.6" y1="36" x2="416.6" y2="60" stroke-width="1.25"/>
<line x1="493.3" y1="37" x2="493.3" y2="51" stroke-width="1.25"/>
<line x1="416.6" y1="42" x2="493.3" y2="42" stroke-width="1.13"/>
<path d="M416.6 42 L421.6 40.7 L421.6 43.3 Z" fill="#141414" stroke="none"/>
<path d="M493.3 42 L488.3 43.3 L488.3 40.7 Z" fill="#141414" stroke="none"/>
<text fill="#141414" stroke="#141414" stroke-width="0.45" x="450" y="40.5" text-anchor="start" style="font-family:'Liberation Serif', serif;font-size:10px;font-style:italic;">C<tspan dy="2.2" style="font-size:6px">1</tspan></text>
<line x1="396" y1="52" x2="416.2" y2="57.6" stroke-width="1.13"/>
<path d="M416.2 57.6 L411.03 57.55 L411.71 55.04 Z" fill="#141414" stroke="none"/>
<text fill="#141414" stroke="#141414" stroke-width="0.45" x="397.5" y="49.8" text-anchor="start" style="font-family:'Liberation Serif', serif;font-size:9.5px;font-style:italic;" transform="rotate(16 397.5 49.8)">RC<tspan dy="2.09" style="font-size:5.7px">4</tspan></text>
<line x1="493.3" y1="51.6" x2="519" y2="51.6" stroke-width="1.25"/>
<line x1="490" y1="123.9" x2="520" y2="123.9" stroke-width="1.25"/>
<line x1="514.6" y1="51.6" x2="514.6" y2="123.9" stroke-width="1.13"/>
<path d="M514.6 51.6 L515.9 56.6 L513.3 56.6 Z" fill="#141414" stroke="none"/>
<path d="M514.6 123.9 L513.3 118.9 L515.9 118.9 Z" fill="#141414" stroke="none"/>
<text fill="#141414" stroke="#141414" stroke-width="0.45" x="512" y="89.5" text-anchor="start" style="font-family:'Liberation Serif', serif;font-size:10px;font-style:italic;" transform="rotate(-90 512 89.5)">C<tspan dy="2.2" style="font-size:6px">1</tspan></text>
<line x1="493" y1="111" x2="509" y2="111" stroke-width="1.13"/>
<line x1="493" y1="118" x2="509" y2="118" stroke-width="1.13"/>
<line x1="504.5" y1="88.5" x2="504.5" y2="131" stroke-width="1.13"/>
<path d="M504.5 111 L503.2 106 L505.8 106 Z" fill="#141414" stroke="none"/>
<path d="M504.5 118 L505.8 123 L503.2 123 Z" fill="#141414" stroke="none"/>
<text fill="#141414" stroke="#141414" stroke-width="0.45" x="502" y="102" text-anchor="start" style="font-family:'Liberation Serif', serif;font-size:9px;font-style:italic;" transform="rotate(-90 502 102)">ϕC<tspan dy="1.98" style="font-size:5.4px">2</tspan></text>
<line x1="419.5" y1="105" x2="488.5" y2="67.3" stroke-width="1.13"/>
<path d="M488.5 67.3 L484.73 70.84 L483.49 68.56 Z" fill="#141414" stroke="none"/>
<path d="M427.5 100.6 L431.27 97.06 L432.51 99.34 Z" fill="#141414" stroke="none"/>
<text fill="#141414" stroke="#141414" stroke-width="0.45" x="430" y="97.8" text-anchor="start" style="font-family:'Liberation Serif', serif;font-size:8.5px;font-style:italic;" transform="rotate(-29 430 97.8)">ϕC<tspan dy="1.87" style="font-size:5.1px">3</tspan></text>
<path d="M443 69.5 Q455.7 61 468.5 68" stroke-width="1.88" fill="none"/>
<path d="M441.5 69.7 L446.5 65.3 L447.2 69.2 Z" stroke-width="1.38" fill="none"/>
<path d="M469.5 68.8 L464.37 67.41 L466.44 64.46 Z" fill="#141414" stroke="none"/>
<path d="M417.8 117.5 Q414.6 117.8 414.6 121 V137.5 Q414.6 141 418 141 L431.7 141.8" stroke-width="1.88" fill="none"/>
<path d="M493.3 117.5 Q494.5 118 494.5 121 V137.5 Q494.5 140.5 491 140.5 L477 141.8" stroke-width="1.88" fill="none"/>
<path d="M431.7 141.8 Q455.7 153 477 141.8" stroke-width="1.88" fill="none"/>
<path d="M424 122.2 Q425 140 455.7 143.6 Q486 140 487.5 122.2" stroke-width="1.75" fill="none"/>
<line x1="415" y1="133.3" x2="431" y2="135" stroke-width="1.5"/>
<line x1="494" y1="133.3" x2="479" y2="135" stroke-width="1.5"/>
<path d="M445.4 124.5 V131.5 Q445.4 133 443.5 133.5" stroke-width="1.38" fill="none"/>
<path d="M463.5 124.5 V131.5 Q463.5 133 465.5 133.5" stroke-width="1.38" fill="none"/>
<text fill="#141414" stroke="#141414" stroke-width="0.45" x="405.5" y="140" text-anchor="start" style="font-family:'Liberation Serif', serif;font-size:10px;font-style:italic;">A</text>
<text fill="#141414" stroke="#141414" stroke-width="0.45" x="497.5" y="141" text-anchor="start" style="font-family:'Liberation Serif', serif;font-size:10px;font-style:italic;">B</text>
<path d="M1.5 1 H8 V6.5 M1.5 1 V6.5 M4.8 2.5 V5 M3.8 6 Q3.8 8.5 0.8 9.6 M6.2 6 V8.6 Q6.2 9.5 9.5 9.2 M12.5 2 L19 0.8 M12.5 2 V5 Q12.5 8.2 10.8 9.8 M12.5 4.6 H19.5 M14.5 6.2 H19 V9.5 H14.5 Z M23.5 0.3 L24.6 1.5 M27.5 0.3 L26.4 1.5 M21.5 2 H29.5 M22.2 3.5 H28.8 M21.2 5 H29.8 M25.5 2 V5 M21.8 6.5 H29.2 V9.4 H21.8 Z M24.2 6.5 V9.4 M26.8 6.5 V9.4 M20.6 9.6 H30.4" stroke-width="1.35" fill="none" transform="translate(353.4 63.2) rotate(39) scale(1.03 0.88) translate(0 -5)"/>
</g>
</svg>
</body></html>
